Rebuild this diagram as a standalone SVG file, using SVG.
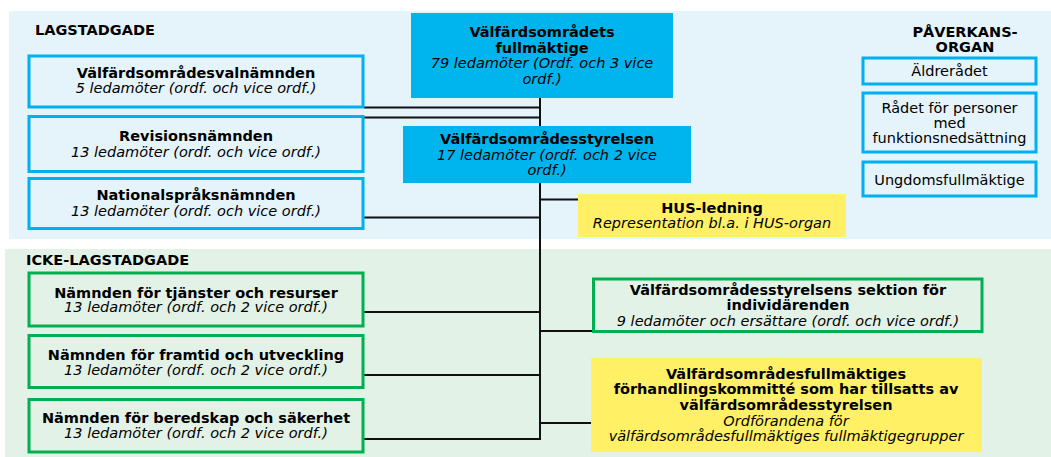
<svg xmlns="http://www.w3.org/2000/svg" width="1051" height="457" viewBox="0 0 1051 457">
<style>
text{font-family:"DejaVu Sans","Verdana",sans-serif;font-size:14.5px;fill:#000;text-anchor:middle}
.b{font-weight:bold}
.i{font-style:italic}
.hd{font-weight:bold;text-anchor:start}
.bl{fill:#E5F3FB;stroke:#00B0F0;stroke-width:3}
.gr{fill:#E3F2E7;stroke:#00B050;stroke-width:3}
.cy{fill:#00B4EE}
.ye{fill:#FFF066}
.con line{stroke:#111;stroke-width:2}
</style>
<rect width="1051" height="457" fill="#fff"/>
<rect id="bg-lag" x="9" y="11" width="1042" height="228" fill="#E5F3FB"/>
<rect id="bg-icke" x="5" y="249" width="1046" height="208" fill="#E3F2E7"/>
<text class="hd" x="35" y="35">LAGSTADGADE</text>
<text class="hd" x="26" y="265">ICKE-LAGSTADGADE</text>
<g class="con" id="connectors">
<line x1="540" y1="97" x2="540" y2="440"/>
<line x1="364" y1="107.5" x2="541" y2="107.5"/>
<line x1="364" y1="117.5" x2="541" y2="117.5"/>
<line x1="364" y1="217.5" x2="541" y2="217.5"/>
<line x1="540" y1="199.5" x2="579" y2="199.5"/>
<line x1="364" y1="312" x2="541" y2="312"/>
<line x1="364" y1="375" x2="541" y2="375"/>
<line x1="364" y1="439" x2="541" y2="439"/>
<line x1="540" y1="331" x2="593" y2="331"/>
<line x1="540" y1="423" x2="592" y2="423"/>
</g>
<g id="fullmaktige">
<rect class="cy" x="411" y="13" width="262" height="85"/>
<text class="b" x="542" y="37">Välfärdsområdets</text>
<text class="b" x="542" y="52.5">fullmäktige</text>
<text class="i" x="542" y="68">79 ledamöter (Ordf. och 3 vice</text>
<text class="i" x="542" y="83.5">ordf.)</text>
</g>
<g id="styrelsen">
<rect class="cy" x="403" y="126" width="288" height="57"/>
<text class="b" x="547" y="143.5">Välfärdsområdesstyrelsen</text>
<text class="i" x="547" y="159.5">17 ledamöter (ordf. och 2 vice</text>
<text class="i" x="547" y="175">ordf.)</text>
</g>
<g id="valnamnden">
<rect class="bl" x="29" y="56" width="334" height="51"/>
<text class="b" x="196" y="77.5">Välfärdsområdesvalnämnden</text>
<text class="i" x="196" y="93">5 ledamöter (ordf. och vice ordf.)</text>
</g>
<g id="revision">
<rect class="bl" x="29" y="116.5" width="334" height="55"/>
<text class="b" x="196" y="141">Revisionsnämnden</text>
<text class="i" x="196" y="157">13 ledamöter (ordf. och vice ordf.)</text>
</g>
<g id="nationalsprak">
<rect class="bl" x="29" y="178.5" width="334" height="50"/>
<text class="b" x="196" y="200">Nationalspråksnämnden</text>
<text class="i" x="196" y="215.5">13 ledamöter (ordf. och vice ordf.)</text>
</g>
<g id="hus">
<rect class="ye" x="578" y="194" width="268" height="43"/>
<text class="b" x="712" y="213">HUS-ledning</text>
<text class="i" x="712" y="227.5">Representation bl.a. i HUS-organ</text>
</g>
<g id="paverkan">
<text class="b" x="965" y="36.5">PÅVERKANS-</text>
<text class="b" x="965" y="51.5">ORGAN</text>
</g>
<g id="aldreradet">
<rect class="bl" x="863" y="58" width="173" height="26"/>
<text x="949.5" y="76">Äldrerådet</text>
</g>
<g id="radet-funktion">
<rect class="bl" x="863" y="93" width="173" height="59"/>
<text x="949.5" y="112.5">Rådet för personer</text>
<text x="949.5" y="127.5">med</text>
<text x="949.5" y="142.5">funktionsnedsättning</text>
</g>
<g id="ungdom">
<rect class="bl" x="863" y="162" width="173" height="34"/>
<text x="949.5" y="185">Ungdomsfullmäktige</text>
</g>
<g id="tjanster">
<rect class="gr" x="29" y="273" width="334" height="53"/>
<text class="b" x="196" y="297.5">Nämnden för tjänster och resurser</text>
<text class="i" x="196" y="312">13 ledamöter (ordf. och 2 vice ordf.)</text>
</g>
<g id="framtid">
<rect class="gr" x="29" y="335.5" width="334" height="52"/>
<text class="b" x="196" y="359.5">Nämnden för framtid och utveckling</text>
<text class="i" x="196" y="374.5">13 ledamöter (ordf. och 2 vice ordf.)</text>
</g>
<g id="beredskap">
<rect class="gr" x="29" y="399.5" width="334" height="52.5"/>
<text class="b" x="196" y="423">Nämnden för beredskap och säkerhet</text>
<text class="i" x="196" y="437.5">13 ledamöter (ordf. och 2 vice ordf.)</text>
</g>
<g id="sektion">
<rect class="gr" x="593.5" y="279" width="388.5" height="52.5"/>
<text class="b" x="788" y="294.5">Välfärdsområdesstyrelsens sektion för</text>
<text class="b" x="788" y="309.5">individärenden</text>
<text class="i" x="788" y="326">9 ledamöter och ersättare (ordf. och vice ordf.)</text>
</g>
<g id="forhandling">
<rect class="ye" x="591" y="358" width="391" height="94"/>
<text class="b" x="786" y="378.5">Välfärdsområdesfullmäktiges</text>
<text class="b" x="786" y="393.5">förhandlingskommitté som har tillsatts av</text>
<text class="b" x="786" y="409.5">välfärdsområdesstyrelsen</text>
<text class="i" x="786" y="425.5">Ordförandena för</text>
<text class="i" x="786" y="441">välfärdsområdesfullmäktiges fullmäktigegrupper</text>
</g>
</svg>
